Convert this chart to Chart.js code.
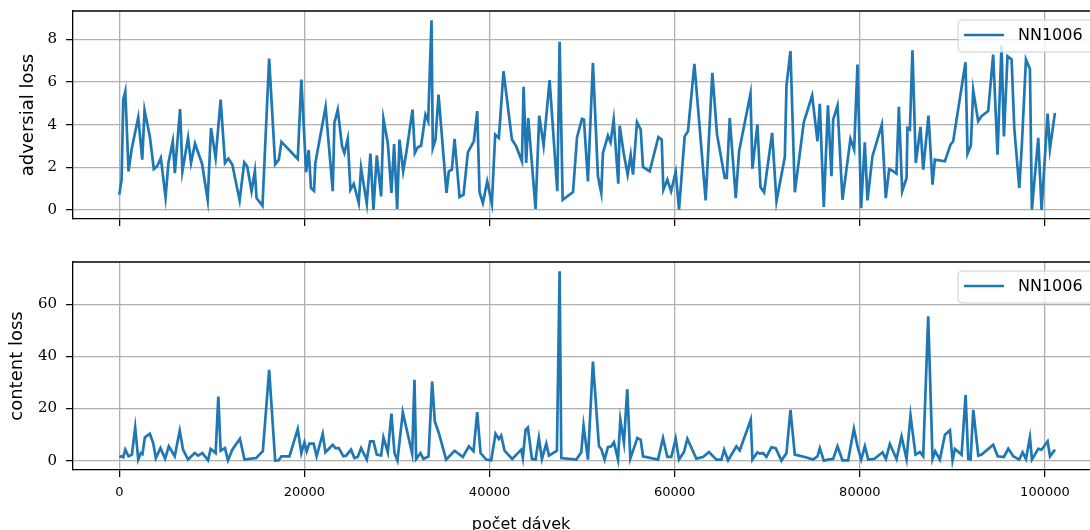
<!doctype html>
<html lang="cs">
<head>
<meta charset="utf-8">
<title>NN1006 loss</title>
<script src="https://cdn.jsdelivr.net/npm/chart.js@4/dist/chart.umd.min.js"></script>
<style>
  body { margin: 0; background: #fff; }
  #wrap { position: relative; width: 1090px; height: 530px; overflow: hidden; }
  canvas { position: absolute; left: 0; }
</style>
</head>
<body>
<div id="wrap">
  <canvas id="advChart" width="1090" height="240" style="top:0"></canvas>
  <canvas id="conChart" width="1090" height="290" style="top:240px"></canvas>
</div>

<script>
// --- data ---
const seriesName = 'NN1006';
const xTitle = 'počet dávek';
const xTicks = [0, 20000, 40000, 60000, 80000, 100000];
const advTicks = [0, 2, 4, 6, 8];
const conTicks = [0, 20, 40, 60];

const advBatch = [0, 250, 430, 650, 1000, 1330, 2050, 2480, 2730, 3300, 3730, 4090, 4490, 5000, 5310, 5780, 6000, 6570, 6820, 7430,
  7750, 8180, 8940, 9550, 9910, 10410, 10950, 11420, 11780, 12210, 13000, 13500, 13820, 14290, 14650, 14830, 15470, 16190, 16840, 17230,
  17520, 19280, 19670, 20180, 20460, 20710, 21040, 21180, 22290, 23060, 23240, 23600, 24070, 24320, 24680, 24970, 25330, 25870, 26120, 26740,
  27130, 27460, 27820, 28290, 28540, 29010, 29400, 29690, 30020, 30270, 30670, 31060, 31680, 31930, 32250, 32610, 33080, 33370, 33730, 33870,
  34160, 34490, 35350, 35600, 35930, 36220, 36760, 37190, 37660, 38300, 38670, 38920, 39280, 39750, 40250, 40610, 41010, 41510, 42420, 42880,
  43500, 43680, 43960, 44180, 44970, 45370, 45840, 46490, 47320, 47570, 47900, 49020, 49450, 49980, 50200, 50630, 51170, 51710, 52070, 52250,
  52790, 53080, 53410, 53910, 54060, 54490, 54920, 55250, 55500, 55930, 56330, 56580, 57300, 58240, 58600, 58780, 59210, 59610, 60110, 60470,
  61080, 61440, 62130, 63350, 64070, 64580, 65410, 65630, 65950, 66600, 66960, 68190, 68400, 68940, 69270, 69660, 70530, 71000, 71900, 72080,
  72510, 72980, 73950, 74850, 75430, 75680, 76110, 76560, 76940, 77120, 77590, 78130, 78990, 79390, 79750, 80140, 80540, 80830, 81370, 82380,
  82810, 83170, 83530, 83960, 84220, 84580, 85050, 85150, 85410, 85690, 86050, 86560, 86850, 87420, 87860, 88110, 89190, 89800, 90090, 91420,
  91640, 92000, 92250, 92790, 93150, 93870, 94410, 94880, 95310, 95570, 95960, 96400, 96690, 97230, 97510, 97950, 98380, 98590, 99280, 99640,
  100290, 100540, 101080];
const advLoss = [0.72, 1.42, 5.17, 5.56, 1.81, 2.83, 4.34, 2.36, 4.67, 3.45, 1.92, 2.05, 2.44, 0.59, 2.2, 3.22, 1.73, 4.73, 1.81, 3.38,
  2.2, 3.11, 2.17, 0.48, 3.84, 2.44, 5.17, 2.2, 2.41, 2.13, 0.45, 2.23, 2.05, 0.88, 1.83, 0.56, 0.2, 7.09, 2.14, 2.36,
  3.19, 2.39, 6.11, 1.77, 2.81, 1.03, 0.9, 2.2, 4.83, 0.88, 4.08, 4.7, 2.98, 2.67, 3.33, 0.95, 1.23, 0.33, 1.97, 0.3,
  2.64, 0.02, 2.56, 0.64, 4.27, 3.14, 0.8, 3.09, 0.05, 3.3, 1.81, 2.83, 4.7, 2.67, 2.94, 3.02, 4.47, 4.16, 8.89, 2.9,
  3.3, 5.41, 0.8, 1.81, 1.89, 3.33, 0.61, 0.72, 2.7, 3.22, 4.63, 0.83, 0.33, 1.34, 0.3, 3.53, 3.38, 6.5, 3.3, 2.98,
  2.28, 5.77, 2.2, 4.31, 0.05, 4.42, 3.02, 6.08, 0.88, 7.88, 0.48, 0.84, 3.4, 4.27, 4.23, 1.34, 6.89, 1.58, 0.8, 2.67,
  3.48, 3.17, 4.23, 1.23, 3.95, 2.67, 1.66, 2.59, 1.66, 4.11, 3.77, 2.02, 1.81, 3.42, 3.3, 0.95, 1.42, 0.88, 1.78, 0.02,
  3.45, 3.69, 6.84, 0.45, 6.42, 3.53, 1.5, 1.5, 4.31, 0.56, 2.75, 5.45, 1.94, 4.0, 1.08, 0.83, 3.61, 0.41, 2.48, 5.83,
  7.44, 0.83, 4.11, 5.36, 3.22, 4.97, 0.14, 4.9, 1.58, 4.23, 4.89, 0.48, 3.33, 2.83, 6.81, 0.09, 3.17, 0.45, 2.52, 4.0,
  0.56, 1.92, 1.84, 1.7, 4.83, 0.88, 1.5, 3.84, 3.77, 7.48, 2.2, 3.89, 1.89, 4.42, 1.19, 2.36, 2.28, 3.06, 3.22, 6.92,
  2.64, 3.02, 5.61, 4.16, 4.39, 4.63, 7.28, 2.59, 7.7, 3.45, 7.2, 7.05, 3.84, 1.03, 3.06, 7.05, 6.61, 0.02, 3.38, 0.0,
  4.52, 2.86, 4.55];

const conBatch = [0, 250, 430, 650, 1000, 1360, 1720, 2050, 2330, 2510, 2760, 3300, 3660, 3950, 4450, 4950, 5350, 5990, 6530, 6890,
  7430, 8150, 8510, 8980, 9590, 9870, 10410, 10700, 10950, 11420, 11740, 12210, 13030, 13530, 14070, 14790, 15510, 16190, 16840, 17230,
  17520, 18380, 19280, 19670, 20000, 20250, 20530, 21000, 21320, 21980, 22270, 23060, 23350, 23710, 24210, 24500, 25040, 25400, 25760, 26120,
  26740, 27100, 27460, 27820, 28290, 28540, 29010, 29400, 29730, 30050, 30630, 31060, 31640, 31890, 32070, 32540, 32860, 33410, 33800, 34090,
  34520, 35310, 36220, 37120, 37770, 38270, 38670, 39030, 39640, 40180, 40650, 41010, 41260, 41620, 42450, 43420, 43600, 43890, 44140, 44580,
  44970, 45330, 45660, 46130, 46420, 47280, 47570, 47750, 49370, 49910, 50160, 50630, 51170, 51820, 52070, 52430, 52790, 53150, 53440, 53880,
  54130, 54520, 54880, 55210, 55970, 56330, 56580, 58200, 58740, 59210, 59640, 60110, 60470, 61010, 61370, 62340, 63060, 63710, 64510, 65050,
  65340, 65770, 66670, 67030, 68220, 68400, 68940, 69190, 69550, 69910, 70450, 70920, 71530, 72080, 72510, 72980, 74060, 74960, 75430, 75680,
  76110, 76580, 77120, 77590, 78130, 78740, 79360, 79750, 80150, 80550, 80910, 81560, 82460, 82820, 83250, 83970, 84510, 85050, 85480, 86020,
  86490, 86850, 87390, 87860, 88150, 88650, 89200, 89740, 90020, 90280, 91000, 91430, 91720, 91970, 92260, 92800, 93160, 94420, 94890, 95570,
  96040, 96580, 97230, 97590, 97950, 98380, 98600, 99280, 99640, 100290, 100550, 101090];
const conLoss = [1.4, 1.66, 1.3, 4.2, 1.66, 2.3, 12.7, 0.4, 2.9, 2.5, 8.9, 10.3, 6.75, 1.0, 4.8, 0.76, 5.5, 1.66, 11.5, 4.2,
  0.4, 2.9, 1.9, 2.9, 0.13, 4.5, 2.9, 24.6, 3.8, 4.8, 0.13, 4.2, 8.4, 0.4, 0.64, 1.0, 3.6, 34.8, 0, 0.13,
  1.66, 1.66, 12.1, 2.9, 7.0, 3.6, 6.5, 6.5, 1.66, 10.3, 3.2, 6.1, 4.8, 4.8, 1.66, 1.9, 4.2, 1.0, 1.4, 4.8,
  0.4, 7.4, 7.4, 2.3, 2.0, 8.9, 3.2, 18, 2.9, 0, 18.5, 11.8, 2.7, 31, 0.64, 2.9, 0.64, 1.66, 30.3, 15,
  10.6, 0.4, 3.8, 1.4, 5.5, 3.6, 18.6, 2.9, 0.4, 0.13, 10.3, 8.3, 9.6, 3.8, 0.64, 4.2, 1.0, 11.8, 12.7, 0.64,
  0.4, 8.7, 0.64, 6.5, 1.9, 3.8, 72.6, 1.0, 0.4, 3.2, 13.4, 0.4, 38, 5.5, 4.5, 0.4, 5.2, 5.5, 7.0, 0.4,
  15.7, 7.0, 27.4, 0.76, 8.7, 8.0, 1.66, 0.4, 8.7, 1.4, 1.4, 8.4, 0.4, 3.3, 8.4, 0.76, 1.4, 3.3, 0.4, 0.4,
  4.2, 0.13, 5.5, 3.9, 15.7, 0.4, 3.2, 2.7, 2.9, 1.4, 5.1, 4.8, 0, 2.9, 19.5, 2.3, 1.4, 0.4, 1.66, 4.8,
  0, 0.4, 0.64, 5.5, 0.13, 0.13, 12.2, 5.5, 0.4, 5.5, 0.4, 0.64, 3.2, 0.64, 6.4, 0.64, 9.3, 0.64, 17.3, 2.3,
  3.3, 1.66, 55.4, 0.64, 3.6, 0.4, 9.9, 11.6, 0.13, 4.5, 2.3, 25.2, 0.64, 0.4, 19.5, 1.9, 2.3, 6.1, 1.66, 1.4,
  4.6, 1.66, 0.4, 3.2, 0.64, 9.0, 0.4, 4.5, 4.2, 7.4, 1.66, 4.2];

const blue = '#1f77b4';
const sans = 'DejaVu Sans';
const serif = 'DejaVu Serif';

function pts(xs, ys) {
  return xs.map((x, i) => ({x: x, y: ys[i]}));
}

// frame top edge + boxed legend like matplotlib
const mplFrame = {
  id: 'mplFrame',
  afterDraw(chart) {
    const ctx = chart.ctx, a = chart.chartArea;
    ctx.save();
    ctx.strokeStyle = '#000';
    ctx.lineWidth = 1.3;
    ctx.beginPath();
    ctx.moveTo(a.left, a.top);
    ctx.lineTo(a.right, a.top);
    ctx.stroke();

    const x = a.right - 132, y = a.top + 9;
    ctx.beginPath();
    ctx.roundRect(x, y, 200, 32, 4);
    ctx.fillStyle = 'rgba(255,255,255,0.8)';
    ctx.fill();
    ctx.strokeStyle = '#cccccc';
    ctx.lineWidth = 1;
    ctx.stroke();

    ctx.strokeStyle = blue;
    ctx.lineWidth = 2.7;
    ctx.beginPath();
    ctx.moveTo(x + 6, y + 15);
    ctx.lineTo(x + 46, y + 15);
    ctx.stroke();

    ctx.fillStyle = '#000';
    ctx.font = '16px "' + sans + '"';
    ctx.textBaseline = 'middle';
    ctx.fillText(chart.data.datasets[0].label, x + 60, y + 16);

    const xl = chart.options.plugins.mplFrame.xlabel;
    if (xl) {
      ctx.textAlign = 'center';
      ctx.textBaseline = 'alphabetic';
      ctx.fillText(xl, 521, chart.height - 1);
    }
    ctx.restore();
  }
};

function makeChart(id, data, yMin, yMax, yTicks, yTitle, opts) {
  return new Chart(document.getElementById(id), {
    type: 'line',
    data: {
      datasets: [{
        label: seriesName,
        data: data,
        borderColor: blue,
        borderWidth: 2.7,
        pointRadius: 0,
        tension: 0,
        fill: false
      }]
    },
    plugins: [mplFrame],
    options: {
      responsive: false,
      animation: false,
      events: [],
      layout: {padding: {top: opts.top, left: 0, right: 0, bottom: 0}},
      plugins: {
        legend: {display: false},
        tooltip: {enabled: false},
        mplFrame: {xlabel: opts.xlabel}
      },
      scales: {
        x: {
          type: 'linear',
          min: -5000,
          max: 104870,
          afterBuildTicks: s => { s.ticks = xTicks.map(v => ({value: v})); },
          afterFit: s => { s.height = opts.xHeight; s.paddingLeft = 0; s.paddingRight = 0; },
          ticks: {
            color: opts.xlabel ? '#000' : 'transparent',
            font: {family: sans, size: 13},
            padding: 8,
            maxRotation: 0,
            callback: v => String(v)
          },
          grid: {color: '#b0b0b0', lineWidth: 1.3, tickLength: 7, tickColor: '#000', tickWidth: 1.2},
          border: {color: '#000', width: 1.3}
        },
        y: {
          min: yMin,
          max: yMax,
          afterBuildTicks: s => { s.ticks = yTicks.map(v => ({value: v})); },
          afterFit: s => { s.width = 73; s.paddingTop = 0; s.paddingBottom = 0; },
          ticks: {color: '#000', font: {family: serif, size: 15}, padding: 9},
          grid: {color: '#b0b0b0', lineWidth: 1.3, tickLength: 7, tickColor: '#000', tickWidth: 1.2},
          border: {color: '#000', width: 1.3},
          title: {
            display: true,
            text: yTitle,
            color: '#000',
            font: {family: sans, size: 18},
            padding: {top: opts.titlePad, bottom: 0}
          }
        }
      }
    }
  });
}

makeChart('advChart', pts(advBatch, advLoss), -0.42, 9.32, advTicks, 'adversial loss',
  {top: 11, xHeight: 21, titlePad: 17.7, xlabel: null});
makeChart('conChart', pts(conBatch, conLoss), -3.6, 76.2, conTicks, 'content loss',
  {top: 22, xHeight: 60, titlePad: 6.7, xlabel: xTitle});
</script>
</body>
</html>
